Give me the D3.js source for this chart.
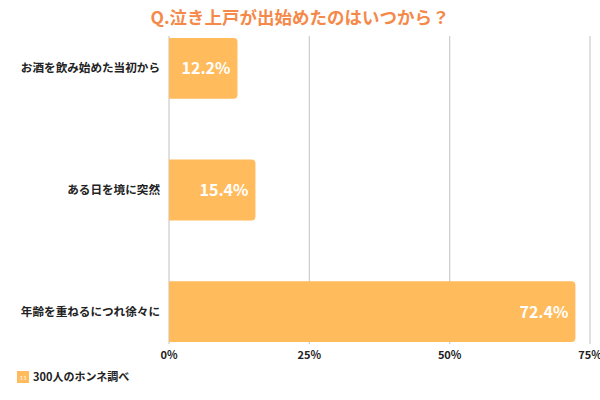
<!DOCTYPE html>
<html><head><meta charset="utf-8">
<script src="https://cdn.jsdelivr.net/npm/d3@7"></script>
<style>body{margin:0;background:#fff}text{font-family:"Noto Sans CJK JP",sans-serif}</style>
</head><body><svg id="c" width="600" height="400"></svg>
<script>
const categories=["お酒を飲み始めた当初から","ある日を境に突然","年齢を重ねるにつれ徐々に"];
const values=[12.2,15.4,72.4];
const ticks=[0,25,50,75];
const svg=d3.select("#c");
const x=d3.scaleLinear().domain([0,75]).range([169,590]);
const y=d3.scaleBand().domain(categories).range([38,342]).paddingInner(0.5);
svg.append("text").attr("x",300).attr("y",24).attr("text-anchor","middle").attr("font-size",17.5).attr("font-weight","bold").attr("fill","#F5894A").text("Q.泣き上戸が出始めたのはいつから？");
svg.selectAll(".g").data(ticks).join("line").attr("x1",d=>x(d)).attr("x2",d=>x(d)).attr("y1",36).attr("y2",344).attr("stroke","#ccc").attr("stroke-width",1.2);
const r=4;
svg.selectAll(".b").data(values).join("path").attr("fill","#FFBB5C").attr("d",(d,i)=>{
 const x0=x(0),x1=x(d),y0=y(categories[i]),h=y.bandwidth();
 return `M${x0},${y0}H${x1-r}Q${x1},${y0} ${x1},${y0+r}V${y0+h-r}Q${x1},${y0+h} ${x1-r},${y0+h}H${x0}Z`;});
svg.selectAll(".v").data(values).join("text").attr("x",(d,i)=>x(d)-7).attr("y",(d,i)=>y(categories[i])+y.bandwidth()/2+6).attr("text-anchor","end").attr("fill","#fff").attr("font-size",16).attr("font-weight","bold").attr("font-family","Lato, sans-serif").text(d=>d.toFixed(1)+"%");
svg.selectAll(".c").data(categories).join("text").attr("x",160).attr("y",d=>y(d)+y.bandwidth()/2+4).attr("text-anchor","end").attr("font-size",11.6).attr("font-weight","bold").attr("fill","#222").text(d=>d);
svg.selectAll(".t").data(ticks).join("text").attr("x",d=>x(d)).attr("y",359).attr("text-anchor","middle").attr("font-size",11).attr("font-weight","bold").attr("fill","#222").text(d=>d+"%");
const ic=svg.append("g").attr("transform","translate(17,371)");
ic.append("rect").attr("width",12).attr("height",12).attr("fill","#FFBB5C");
ic.append("text").attr("x",6).attr("y",9).attr("text-anchor","middle").attr("font-size",5).attr("fill","#fff").text("3 3");
svg.append("text").attr("x",33).attr("y",381).attr("font-size",11).attr("font-weight","bold").attr("fill","#222").text("300人のホンネ調べ");
</script></body></html>
